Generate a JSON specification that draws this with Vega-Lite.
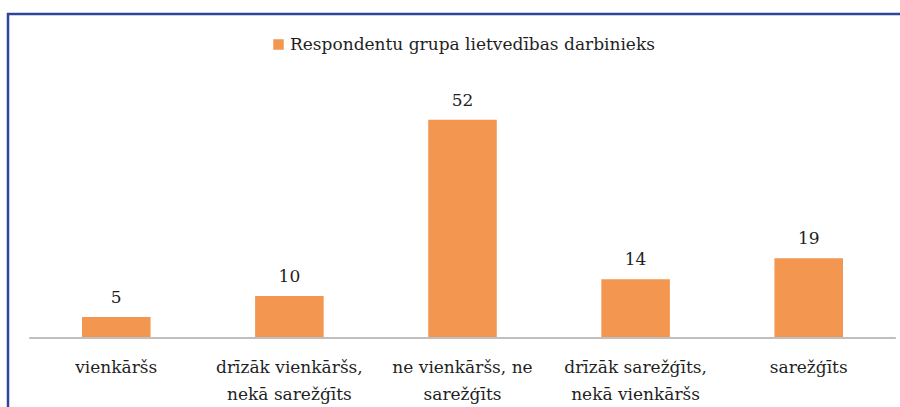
{
  "$schema": "https://vega.github.io/schema/vega-lite/v6.json",
  "width": 909,
  "height": 396,
  "padding": {"left": 8, "top": 14, "right": 0, "bottom": 0},
  "autosize": {"type": "none"},
  "background": "white",
  "config": {
    "view": {"stroke": "#2E4599", "strokeWidth": 2.5},
    "font": "DejaVu Serif"
  },
  "data": {
    "values": [
      {"category": "vienkāršs", "value": 5, "group": "Respondentu grupa lietvedības darbinieks"},
      {"category": "drīzāk vienkāršs, nekā sarežģīts", "value": 10, "group": "Respondentu grupa lietvedības darbinieks"},
      {"category": "ne vienkāršs, ne sarežģīts", "value": 52, "group": "Respondentu grupa lietvedības darbinieks"},
      {"category": "drīzāk sarežģīts, nekā vienkāršs", "value": 14, "group": "Respondentu grupa lietvedības darbinieks"},
      {"category": "sarežģīts", "value": 19, "group": "Respondentu grupa lietvedības darbinieks"}
    ]
  },
  "encoding": {
    "x": {
      "field": "category",
      "type": "nominal",
      "sort": null,
      "scale": {"paddingInner": 0.604, "paddingOuter": 0.4275},
      "axis": {
        "title": null,
        "domain": false,
        "ticks": false,
        "labelAngle": 0,
        "offset": -72,
        "labelPadding": 21,
        "labelFont": "DejaVu Serif",
        "labelFontSize": 17,
        "labelColor": "#1F1F1F",
        "labelLineHeight": 27,
        "labelLimit": 300,
        "labelExpr": "datum.value == 'drīzāk vienkāršs, nekā sarežģīts' ? ['drīzāk vienkāršs,', 'nekā sarežģīts'] : datum.value == 'ne vienkāršs, ne sarežģīts' ? ['ne vienkāršs, ne', 'sarežģīts'] : datum.value == 'drīzāk sarežģīts, nekā vienkāršs' ? ['drīzāk sarežģīts,', 'nekā vienkāršs'] : datum.value"
      }
    }
  },
  "layer": [
    {
      "mark": {"type": "bar"},
      "encoding": {
        "y": {
          "field": "value",
          "type": "quantitative",
          "stack": null,
          "scale": {"domain": [-17.16, 77.2], "nice": false, "zero": false},
          "axis": null
        },
        "color": {
          "field": "group",
          "type": "nominal",
          "scale": {"range": ["#F29650"]},
          "legend": {
            "title": null,
            "orient": "none",
            "legendX": 262,
            "legendY": 22,
            "symbolType": "square",
            "symbolSize": 110,
            "symbolStrokeWidth": 0,
            "labelFont": "DejaVu Serif",
            "labelFontSize": 17,
            "labelColor": "#1F1F1F",
            "labelLimit": 500,
            "labelOffset": 3
          }
        }
      }
    },
    {
      "mark": {"type": "text", "baseline": "alphabetic", "dy": -14, "font": "DejaVu Serif", "fontSize": 17, "color": "#1F1F1F"},
      "encoding": {
        "y": {"field": "value", "type": "quantitative"},
        "text": {"field": "value", "type": "quantitative"}
      }
    },
    {
      "mark": {"type": "rule", "color": "#BFBFBF", "strokeWidth": 2},
      "encoding": {
        "x": {"datum": "vienkāršs", "bandPosition": -0.763},
        "x2": {"datum": "sarežģīts", "bandPosition": 1.763},
        "y": {"datum": 0}
      }
    }
  ]
}
